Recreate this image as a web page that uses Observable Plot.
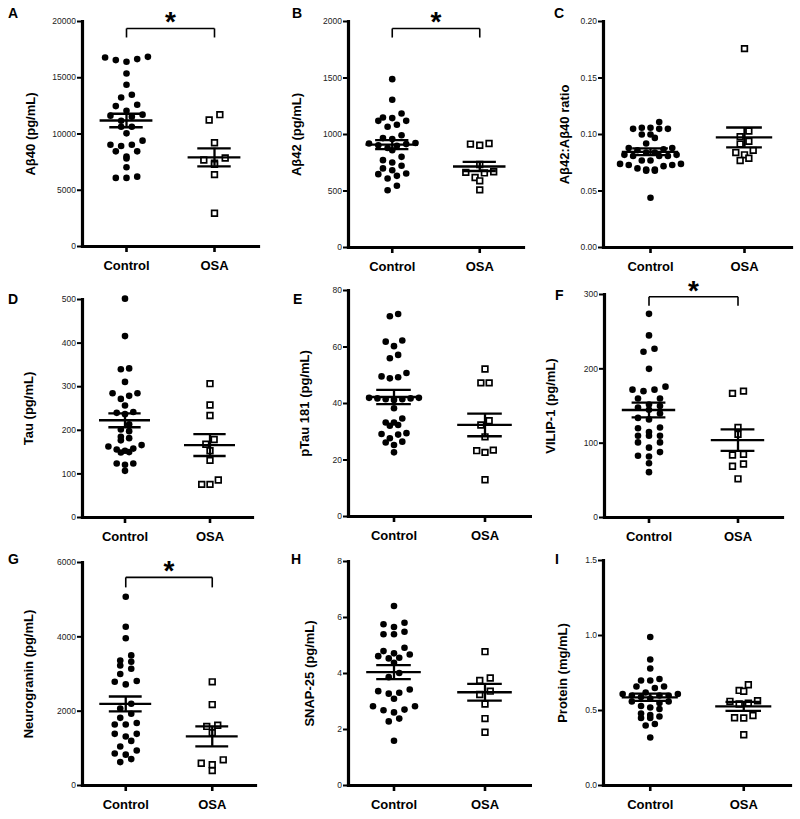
<!DOCTYPE html>
<html><head><meta charset="utf-8">
<script src="https://cdn.jsdelivr.net/npm/d3@7"></script>
<script src="https://cdn.jsdelivr.net/npm/@observablehq/plot@0.6"></script>
<style>
body{margin:0;background:#fff;}
#fig{position:relative;width:800px;height:819px;font-family:"Liberation Sans",Arial,Helvetica,sans-serif;}
.panel{position:absolute;}
.panel svg{max-width:none !important;}
.letter{position:absolute;font-weight:bold;font-size:14px;line-height:14px;color:#000;}
</style></head><body><div id="fig"></div>
<script>
// ---------------- DATA ----------------
const groups = ["Control", "OSA"];
const panelLetters = ["A","B","C","D","E","F","G","H","I"];
const yLabels = ["Aβ40 (pg/mL)","Aβ42 (pg/mL)","Aβ42:Aβ40 ratio","Tau (pg/mL)","pTau 181 (pg/mL)","VILIP-1 (pg/mL)","Neurogranin (pg/mL)","SNAP-25 (pg/mL)","Protein (mg/mL)"];
const yTicks = [
  [0,5000,10000,15000,20000],
  [0,500,1000,1500,2000],
  [0,0.05,0.10,0.15,0.20],
  [0,100,200,300,400,500],
  [0,20,40,60,80],
  [0,100,200,300],
  [0,2000,4000,6000],
  [0,2,4,6,8],
  [0,0.5,1.0,1.5]
];

const abeta40Control = [16860,16570,16420,16660,16800,15380,14380,13250,13490,12480,12600,12070,11720,11630,11530,11180,10650,10650,10060,9410,9050,9050,8940,8460,8460,7990,7820,7040,6210,6100,6100];
const abeta40OSA = [11720,11240,9220,7870,7690,7400,7300,6390,2960];

const abeta42Control = [1490,1307,1186,1145,1121,1068,1086,1121,1150,994,968,960,920,915,905,900,925,861,880,802,752,773,723,700,684,634,655,649,507,546,610];
const abeta42OSA = [920,905,915,735,665,660,670,620,590,510];

const ratioControl = [0.111,0.106,0.105,0.105,0.105,0.106,0.097,0.100,0.100,0.092,0.088,0.087,0.088,0.086,0.084,0.084,0.082,0.081,0.081,0.081,0.082,0.077,0.077,0.074,0.073,0.072,0.073,0.074,0.069,0.068,0.068,0.069,0.070,0.044];
const ratioOSA = [0.176,0.103,0.098,0.094,0.0915,0.086,0.082,0.077,0.079,0.084];

const tauControl = [502,416,342,340,311,285,279,285,272,257,240,242,237,214,202,198,185,177,182,166,158,153,149,150,156,163,124,121,124,107];
const tauOSA = [307,258,234,179,168,153,131,86,76,76];

const ptauControl = [71.7,70.9,61.9,62.3,60.3,57.2,56.0,49.6,48.9,49.3,50.8,41.8,41.5,42.0,41.2,41.8,41.5,42.0,38.3,34.7,33.3,32.1,32.4,33.3,29.2,29.0,29.5,27.7,26.2,25.3,26.5,22.7];
const ptauOSA = [52.2,47.3,47.3,33.9,32.4,28.2,23.3,22.7,23.5,13.0];

const vilipControl = [274,245,223,227,200,172,170,172,176,160,160,150,152,148,145,140,132,134,121,120,115,110,110,110,94,101,101,88,83,82,73,61];
const vilipOSA = [167,170,121,112,85,84,72,69,52];

const ngrnControl = [5080,4270,3960,3500,3330,3360,3140,3230,3000,2790,2720,2810,2200,2070,1820,1930,1640,1680,1640,1390,1320,1390,1200,1050,940,830,860,630,710];
const ngrnOSA = [2789,2177,1590,1620,1420,600,400,560,690];

const snapControl = [6.41,5.66,5.81,5.76,5.40,5.40,5.49,4.92,4.80,4.68,4.54,4.56,4.62,4.72,4.38,4.02,3.87,3.43,3.31,3.28,3.37,3.10,2.83,2.69,2.61,2.83,2.71,2.39,2.29,1.60];
const snapOSA = [4.78,3.84,3.75,3.37,3.25,2.91,2.39,1.90];

const proteinControl = [0.99,0.84,0.78,0.71,0.70,0.70,0.66,0.65,0.66,0.61,0.60,0.62,0.60,0.61,0.60,0.59,0.58,0.56,0.55,0.56,0.53,0.51,0.52,0.48,0.46,0.45,0.45,0.47,0.41,0.40,0.32];
const proteinOSA = [0.628,0.672,0.634,0.543,0.548,0.561,0.565,0.45,0.452,0.467,0.338];

// mean and SEM (Control, OSA) as drawn
const means = [[11200,7930],[910,717],[0.0847,0.0974],[223,166],[42.3,32.4],[144.6,104],[2195,1322],[4.05,3.33],[0.588,0.528]];
const sems  = [[600,800],[40,40],[0.003,0.0088],[16,25],[2.5,4],[10,14.5],[200,270],[0.25,0.3],[0.024,0.03]];
// significance brackets: [bar level, end of drop] in data units
const sigBrackets = [[19380,18580],[1938,1858],null,null,null,[297,285],[5600,5330],null,null];

const controls = [abeta40Control,abeta42Control,ratioControl,tauControl,ptauControl,vilipControl,ngrnControl,snapControl,proteinControl];
const osas = [abeta40OSA,abeta42OSA,ratioOSA,tauOSA,ptauOSA,vilipOSA,ngrnOSA,snapOSA,proteinOSA];

// ---------------- LAYOUT ----------------
const layout = [
  {left:0,   top:0,   w:266, h:272, mL:82, mR:8,  mT:21, mB:26, labelX:30, spacing:10.7, fmt:d=>String(d), lx:8,   lb:18},
  {left:266, top:0,   w:266, h:272, mL:82, mR:9,  mT:21, mB:25, labelX:30, spacing:9.3,  fmt:d=>String(d), lx:292, lb:18},
  {left:532, top:0,   w:268, h:272, mL:71, mR:9,  mT:21, mB:25, labelX:32, spacing:8.7,  fmt:d3.format(".2f"), lx:554, lb:18},
  {left:0,   top:272, w:266, h:272, mL:82, mR:14, mT:27, mB:27, labelX:28, spacing:8.3,  fmt:d=>String(d), lx:8,   lb:304},
  {left:266, top:272, w:266, h:272, mL:82, mR:2,  mT:18, mB:28, labelX:38, spacing:8.3,  fmt:d=>String(d), lx:293, lb:304},
  {left:532, top:272, w:268, h:272, mL:72, mR:18, mT:22, mB:27, labelX:18, spacing:11,   fmt:d=>String(d), lx:555, lb:300},
  {left:0,   top:544, w:266, h:275, mL:82, mR:11, mT:18, mB:34, labelX:28, spacing:11,   fmt:d=>String(d), lx:8,   lb:564},
  {left:266, top:544, w:266, h:275, mL:82, mR:2,  mT:17, mB:34, labelX:43, spacing:10.5, fmt:d=>String(d), lx:291, lb:564},
  {left:532, top:544, w:268, h:275, mL:71, mR:10, mT:16, mB:34, labelX:30, spacing:9.2,  fmt:d3.format(".1f"), lx:555, lb:564}
];

const MEAN_HALF = 0.6, SEM_HALF = 0.38, ROW_THRESH = 6.2;

function swarm(values, g, y, unitPx, spacing) {
  const pts = values.map(v => ({v, py: y(v)})).sort((a, b) => a.py - b.py);
  const rows = []; let cur = null;
  for (const p of pts) {
    if (!cur || p.py - cur[0].py >= ROW_THRESH) { cur = [p]; rows.push(cur); } else cur.push(p);
  }
  const out = [];
  for (const row of rows) {
    const k = row.length;
    const slots = d3.range(k).map(i => i - (k - 1) / 2).sort((a, b) => Math.abs(a) - Math.abs(b) || a - b);
    row.sort((a, b) => a.v - b.v);
    row.forEach((p, i) => out.push({group: groups[g], value: p.v, x: g * 2 + 1 + slots[i] * spacing / unitPx}));
  }
  return out;
}

const fig = document.getElementById("fig");
const FONT = '"Liberation Sans", Arial, Helvetica, sans-serif';

layout.forEach((L, i) => {
  const ticks = yTicks[i];
  const ymax = ticks[ticks.length - 1];
  const y = d3.scaleLinear().domain([0, ymax]).range([L.h - L.mB, L.mT]);
  const unitPx = (L.w - L.mL - L.mR) / 4;
  const ctrlPts = swarm(controls[i], 0, y, unitPx, L.spacing);
  const osaPts = swarm(osas[i], 1, y, unitPx, L.spacing);
  const stats = [0, 1].map(g => ({c: g * 2 + 1, mean: means[i][g], sem: sems[i][g]}));
  const semLines = stats.flatMap(s => [{c: s.c, v: s.mean - s.sem}, {c: s.c, v: s.mean + s.sem}]);
  const marks = [
    Plot.axisY({ticks, tickFormat: L.fmt, tickSize: 5, tickPadding: 1.5, fontSize: 8.5, stroke: "black", strokeWidth: 2, label: null, fill: "#222"}),
    Plot.axisX({ticks: [1, 3], tickFormat: d => groups[(d - 1) / 2], tickSize: 6, tickPadding: 8, fontSize: 13, fontWeight: "bold", stroke: "black", strokeWidth: 2.6, label: null, fill: "black"}),
    // axis lines
    Plot.link([{x1: 0, y1: 0, x2: 0, y2: ymax}, {x1: 0, y1: 0, x2: 4, y2: 0}], {x1: "x1", y1: "y1", x2: "x2", y2: "y2", stroke: "black", strokeWidth: 3.2, strokeLinecap: "square"}),
    Plot.dot(ctrlPts, {x: "x", y: "value", r: 3.3, fill: "black"}),
    Plot.dot(osaPts, {x: "x", y: "value", r: 3.2, symbol: "square", fill: "white", stroke: "black", strokeWidth: 1.7}),
    Plot.ruleY(stats, {y: "mean", x1: d => d.c - MEAN_HALF, x2: d => d.c + MEAN_HALF, stroke: "black", strokeWidth: 2.3}),
    Plot.ruleY(semLines, {y: "v", x1: d => d.c - SEM_HALF, x2: d => d.c + SEM_HALF, stroke: "black", strokeWidth: 2.3}),
    Plot.ruleX(stats, {x: "c", y1: d => d.mean - d.sem, y2: d => d.mean + d.sem, stroke: "black", strokeWidth: 2.3}),
    Plot.text([yLabels[i]], {text: d => d, frameAnchor: "left", textAnchor: "middle", dx: L.labelX - L.mL, rotate: -90, fontSize: 13, fontWeight: "bold", fill: "black"})
  ];
  const sb = sigBrackets[i];
  if (sb) {
    marks.push(
      Plot.link([{x1: 1, y1: sb[1], x2: 1, y2: sb[0]}, {x1: 1, y1: sb[0], x2: 3, y2: sb[0]}, {x1: 3, y1: sb[0], x2: 3, y2: sb[1]}],
        {x1: "x1", y1: "y1", x2: "x2", y2: "y2", stroke: "black", strokeWidth: 1.6}),
      Plot.text([sb[0]], {x: 2, y: d => d, text: () => "*", fontSize: 28, fontWeight: "bold", dy: -6, fill: "black"})
    );
  }
  const plot = Plot.plot({
    width: L.w, height: L.h,
    marginLeft: L.mL, marginRight: L.mR, marginTop: L.mT, marginBottom: L.mB,
    x: {domain: [0, 4]},
    y: {domain: [0, ymax]},
    style: {fontFamily: FONT, background: "white", color: "black", overflow: "visible", maxWidth: "none"},
    marks
  });
  const div = document.createElement("div");
  div.className = "panel";
  div.style.left = L.left + "px";
  div.style.top = L.top + "px";
  div.style.width = L.w + "px";
  div.appendChild(plot);
  fig.appendChild(div);

  const lt = document.createElement("div");
  lt.className = "letter";
  lt.textContent = panelLetters[i];
  lt.style.left = L.lx + "px";
  lt.style.top = (L.lb - 12) + "px";
  fig.appendChild(lt);
});
</script></body></html>
